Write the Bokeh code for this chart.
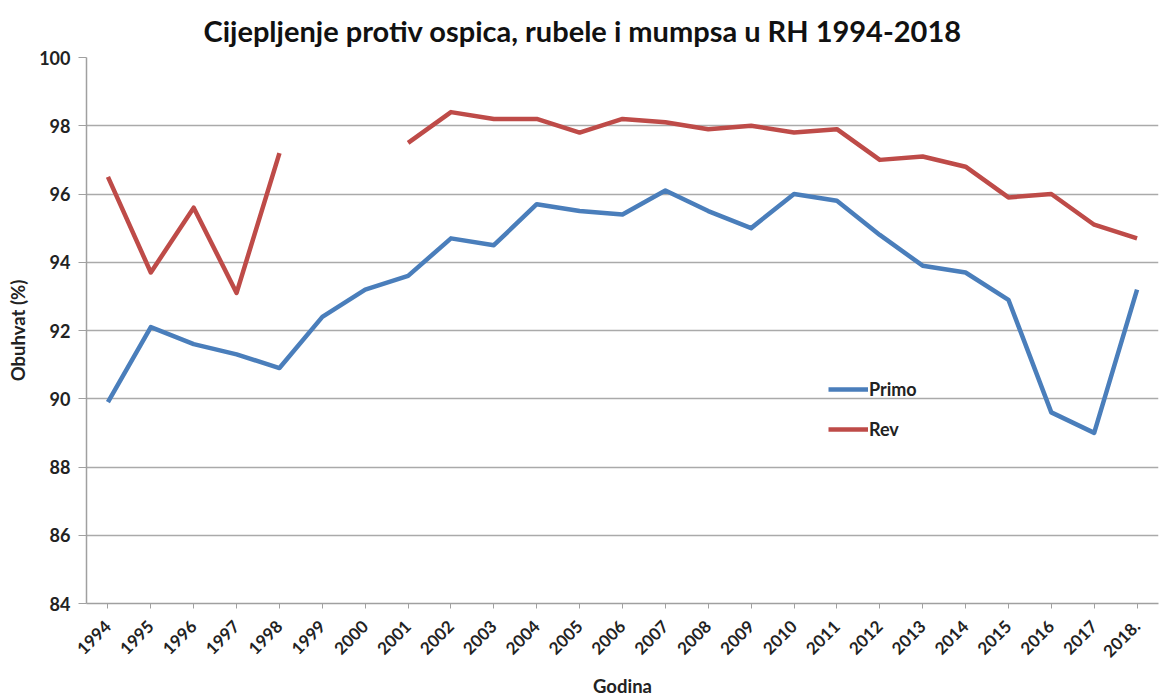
import math
from bokeh.plotting import figure
from bokeh.models import Legend, LegendItem, ColumnDataSource
from bokeh.embed import file_html
from bokeh.resources import INLINE

nan = float("nan")

years = ["1994", "1995", "1996", "1997", "1998", "1999", "2000", "2001", "2002",
         "2003", "2004", "2005", "2006", "2007", "2008", "2009", "2010", "2011",
         "2012", "2013", "2014", "2015", "2016", "2017", "2018."]

primo = [89.9, 92.1, 91.6, 91.3, 90.9, 92.4, 93.2, 93.6, 94.7, 94.5, 95.7, 95.5,
         95.4, 96.1, 95.5, 95.0, 96.0, 95.8, 94.8, 93.9, 93.7, 92.9, 89.6, 89.0, 93.2]

rev = [96.5, 93.7, 95.6, 93.1, 97.2, nan, nan, 97.5, 98.4, 98.2, 98.2, 97.8,
       98.2, 98.1, 97.9, 98.0, 97.8, 97.9, 97.0, 97.1, 96.8, 95.9, 96.0, 95.1, 94.7]

y_ticks = [84, 86, 88, 90, 92, 94, 96, 98, 100]

FONT = "Lato"

p = figure(x_range=years, y_range=(84, 100), width=1160, height=699,
           output_backend="svg", toolbar_location=None,
           min_border_left=86, min_border_right=2, min_border_top=57,
           min_border_bottom=96,
           title="Cijepljenje protiv ospica, rubele i mumpsa u RH 1994-2018")

p.title.text_font = FONT
p.title.text_font_size = "29px"
p.title.text_font_style = "bold"
p.title.align = "left"
p.title.offset = 117
p.title.text_color = "#111111"
p.title.standoff = 20

src = ColumnDataSource(dict(year=years, primo=primo, rev=rev))
r1 = p.line("year", "primo", source=src, line_color="#4A7EBB", line_width=4.5,
            line_join="round")
r2 = p.line("year", "rev", source=src, line_color="#BE4B48", line_width=4.5,
            line_join="round")

p.outline_line_color = None
p.xgrid.grid_line_color = None
p.ygrid.grid_line_color = "#AAAAAA"
p.ygrid.grid_line_width = 1.6

p.yaxis.ticker = y_ticks
p.yaxis.axis_label = "Obuhvat (%)"
p.xaxis.axis_label = "Godina"
for ax in (p.xaxis, p.yaxis):
    ax.axis_line_color = "#A0A0A0"
    ax.axis_line_width = 1.5
    ax.major_tick_line_color = "#A0A0A0"
    ax.minor_tick_line_color = None
    ax.major_label_text_font = FONT
    ax.major_label_text_font_style = "bold"
    ax.major_label_text_color = "#222222"
    ax.axis_label_text_font = FONT
    ax.axis_label_text_font_style = "bold"
    ax.axis_label_text_font_size = "18.5px"
    ax.axis_label_text_color = "#222222"

p.yaxis.major_label_text_font_size = "18px"
p.yaxis.major_tick_out = 8
p.yaxis.major_tick_in = 0
p.yaxis.major_label_standoff = 8
p.yaxis.axis_label_standoff = 7

p.xaxis.major_label_text_font_size = "17px"
p.xaxis.major_label_orientation = math.pi / 4
p.xaxis.major_tick_out = 5
p.xaxis.major_tick_in = 0
p.xaxis.major_label_standoff = 15
p.xaxis.axis_label_standoff = 9

legend = Legend(items=[LegendItem(label="Primo", renderers=[r1]),
                       LegendItem(label="Rev", renderers=[r2])],
                location=(742, 163), orientation="vertical")
legend.border_line_color = None
legend.background_fill_alpha = 0
legend.padding = 0
legend.margin = 0
legend.spacing = 18
legend.glyph_height = 20
legend.label_height = 20
legend.glyph_width = 40
legend.label_standoff = 1
legend.label_text_font = FONT
legend.label_text_font_style = "bold"
legend.label_text_font_size = "18px"
legend.label_text_color = "#222222"
p.add_layout(legend, "center")

open("out.html", "w").write(file_html(p, INLINE))
